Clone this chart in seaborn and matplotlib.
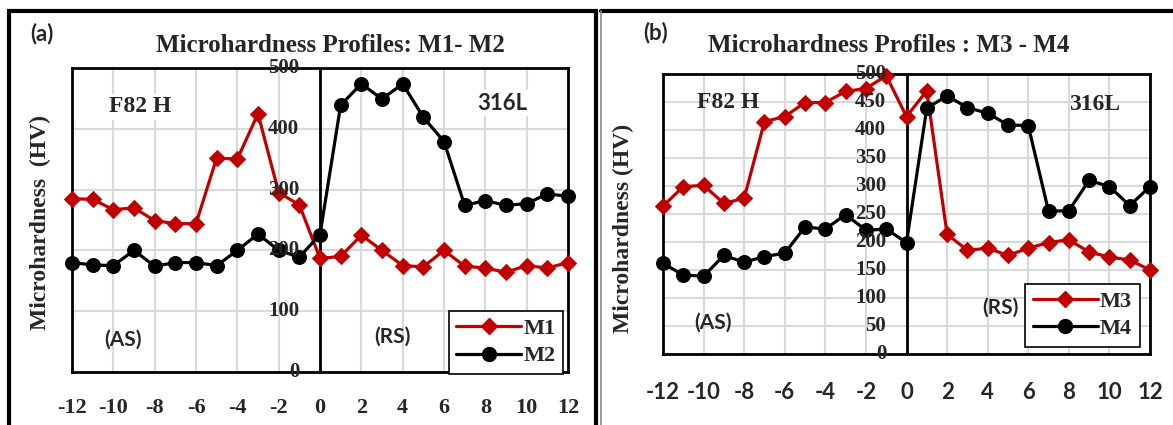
import matplotlib
matplotlib.use("Agg")
import matplotlib.pyplot as plt
import pandas as pd
import seaborn as sns
from matplotlib.patches import Rectangle
from matplotlib.lines import Line2D

# Datos (HV vs. distancia al centro de la soldadura)
dist = list(range(-12, 13))
m1 = [285, 284, 267, 270, 249, 244, 244, 352, 350, 425, 295, 275, 187,
      190, 225, 200, 175, 173, 200, 174, 171, 164, 175, 171, 180]
m2 = [180, 176, 175, 200, 174, 180, 180, 175, 200, 227, 200, 189, 226,
      439, 474, 449, 474, 419, 379, 274, 282, 274, 277, 293, 289]
m3 = [264, 299, 301, 269, 278, 415, 424, 449, 449, 469, 474, 497, 424,
      470, 214, 185, 189, 176, 189, 199, 204, 182, 173, 168, 150]
m4 = [162, 141, 139, 176, 164, 174, 180, 227, 223, 249, 221, 223, 199,
      439, 461, 440, 430, 409, 408, 255, 256, 310, 299, 265, 299]
xticks = list(range(-12, 13, 2))

sns.set_theme(style="white")
plt.rcParams['font.family'] = ['Liberation Serif', 'DejaVu Sans']
SERIF = 'Liberation Serif'
SANS = 'Lato'
RED = '#C00000'

W, H = 1173, 425
fig = plt.figure(figsize=(W / 100, H / 100), dpi=100)


def fx(px):
    return px / W


def fy(py):
    return 1 - py / H


# Marcos de los paneles
fig.patches.append(Rectangle((fx(9), fy(440)), fx(596) - fx(9), fy(11) - fy(440),
                             transform=fig.transFigure, fill=False, ec='black', lw=3))
fig.lines.append(Line2D([fx(601), fx(1180)], [fy(11), fy(11)],
                        transform=fig.transFigure, color='black', lw=3))
fig.lines.append(Line2D([fx(601), fx(601)], [fy(11), fy(440)],
                        transform=fig.transFigure, color='#888888', lw=1.2))


def panel(rect, s1, s2, n1, n2, ystep, xfont, tick_pad, leg_anchor):
    x0, x1, ytop, ybot = rect
    ax = fig.add_axes([fx(x0), fy(ybot), fx(x1) - fx(x0), fy(ytop) - fy(ybot)])
    df = pd.DataFrame({'dist': dist, n1: s1, n2: s2})
    sns.lineplot(data=df, x='dist', y=n1, ax=ax, color=RED, lw=2.3, marker='D',
                 markersize=8, markeredgecolor=RED, clip_on=False, zorder=4)
    sns.lineplot(data=df, x='dist', y=n2, ax=ax, color='black', lw=2.3, marker='o',
                 markersize=10, markeredgecolor='black', clip_on=False, zorder=4)
    ax.set_xlim(-12, 12)
    ax.set_ylim(0, 500)
    ax.set_xticks(xticks)
    ax.set_xticklabels([str(t) for t in xticks], fontsize=16, fontweight='bold',
                       family=xfont)
    ax.set_yticks(list(range(0, 501, ystep)))
    ax.tick_params(axis='y', labelleft=False, length=0)
    ax.tick_params(axis='x', length=0, pad=tick_pad)
    ax.grid(True, color='#d9d9d9', lw=1.5)
    ax.set_axisbelow(True)
    for sp in ax.spines.values():
        sp.set_color('black')
        sp.set_linewidth(2)
    ax.axvline(0, color='black', lw=2, zorder=3)
    ax.set_xlabel('')
    ax.set_ylabel('')
    for v in range(0, 501, ystep):
        ax.text(-1.0, v, str(v), ha='right', va='center', fontsize=15,
                fontweight='bold', family=SERIF, zorder=6)
    handles = [Line2D([], [], color=RED, lw=2.3, marker='D', markersize=8),
               Line2D([], [], color='black', lw=2.3, marker='o', markersize=10)]
    leg = ax.legend(handles, [n1, n2], loc='lower right', bbox_to_anchor=leg_anchor,
                    borderaxespad=0, fancybox=False, framealpha=1, edgecolor='black',
                    handlelength=2.9, handletextpad=0.1, borderpad=0.35,
                    labelspacing=0.3, prop={'family': SERIF, 'weight': 'bold', 'size': 16})
    leg.get_frame().set_linewidth(1.2)
    leg.set_zorder(7)
    return ax


ax1 = panel((72, 568, 68, 372), m1, m2, 'M1', 'M2', 100, SERIF, 19, (0.99, -0.007))
ax2 = panel((663, 1150, 74, 354), m3, m4, 'M3', 'M4', 50, SANS, 20, (0.979, 0.025))

box = dict(facecolor='white', edgecolor='none', pad=2)

# Panel (a)
fig.text(fx(42), fy(34), '(a)', ha='center', va='center', fontsize=16,
         fontweight='bold', family=SANS)
fig.text(fx(330), fy(46), 'Microhardness Profiles: M1- M2', ha='center', va='center',
         fontsize=18, fontweight='bold', family=SERIF)
fig.text(fx(40), fy(222), 'Microhardness  (HV)', ha='center', va='center',
         rotation=90, fontsize=17, fontweight='bold', family=SERIF)
fig.text(fx(140), fy(107), 'F82 H', ha='center', va='center', fontsize=17,
         fontweight='bold', family=SERIF, bbox=box, zorder=5)
fig.text(fx(502), fy(103), '316L', ha='center', va='center', fontsize=16,
         fontweight='bold', family=SANS, bbox=box, zorder=5)
fig.text(fx(123), fy(340), '(AS)', ha='center', va='center', fontsize=15,
         fontweight='bold', family=SANS)
fig.text(fx(392), fy(337), '(RS)', ha='center', va='center', fontsize=15,
         fontweight='bold', family=SANS)

# Panel (b)
fig.text(fx(656), fy(33), '(b)', ha='center', va='center', fontsize=16,
         fontweight='bold', family=SANS)
fig.text(fx(889), fy(46), 'Microhardness Profiles : M3 - M4', ha='center', va='center',
         fontsize=18, fontweight='bold', family=SERIF)
fig.text(fx(623), fy(228), 'Microhardness (HV)', ha='center', va='center',
         rotation=90, fontsize=17, fontweight='bold', family=SERIF)
fig.text(fx(728), fy(102), 'F82 H', ha='center', va='center', fontsize=17,
         fontweight='bold', family=SERIF)
fig.text(fx(1095), fy(105), '316L', ha='center', va='center', fontsize=17,
         fontweight='bold', family=SERIF)
fig.text(fx(713), fy(323), '(AS)', ha='center', va='center', fontsize=15,
         fontweight='bold', family=SANS)
fig.text(fx(1000), fy(308), '(RS)', ha='center', va='center', fontsize=15,
         fontweight='bold', family=SANS)

fig.savefig('out.png', dpi=100)
